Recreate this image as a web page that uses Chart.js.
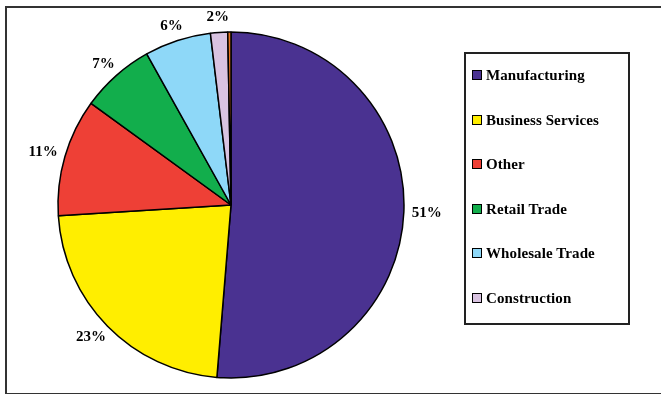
<!DOCTYPE html>
<html>
<head>
<meta charset="utf-8">
<script src="https://cdn.jsdelivr.net/npm/chart.js@4"></script>
<style>
  body { margin: 0; background: #fff; font-family: "Liberation Serif", "Times New Roman", serif; }
  #wrap { position: relative; width: 661px; height: 394px; overflow: hidden; }
  #frame { position: absolute; left: 5px; top: 6px; width: 700px; height: 385px; border: 2px solid #333; border-right: none; }
  #chart { position: absolute; left: 0; top: 0; }
  #legend { position: absolute; left: 464px; top: 52px; width: 162px; height: 269px; border: 2px solid #222; }
  .item { position: absolute; left: 6px; font-weight: bold; font-size: 15px; line-height: 16px; color: #000; white-space: nowrap; letter-spacing: 0.1px; }
  .sw { display: inline-block; width: 8px; height: 8px; border: 1px solid #000; margin-right: 4px; vertical-align: 0px; }
</style>
</head>
<body>
<div id="wrap">
  <div id="frame"></div>
  <canvas id="chart" width="661" height="394"></canvas>
  <div id="legend"></div>
</div>
<script>
// sectors, clockwise from 12 o'clock
const categories = ['Manufacturing', 'Business Services', 'Other', 'Retail Trade', 'Wholesale Trade', 'Construction', ''];
const shares = [51.3, 22.7, 11.0, 6.9, 6.2, 1.6, 0.3];
const colors = ['#4A3291', '#FFEE00', '#EE4036', '#12AE4C', '#8ED8F8', '#D9C3E1', '#E8741E'];

// legend (html, only named sectors)
const legend = document.getElementById('legend');
categories.forEach((c, i) => {
  if (!c) return;
  const d = document.createElement('div');
  d.className = 'item';
  d.style.top = (13 + i * 44.6) + 'px';
  d.innerHTML = `<span class="sw" style="background:${colors[i]}"></span>${c}`;
  legend.appendChild(d);
});

const pctLabels = {
  id: 'pctLabels',
  afterDatasetsDraw(chart) {
    const ctx = chart.ctx;
    const meta = chart.getDatasetMeta(0);
    ctx.save();
    ctx.font = 'bold 15px "Liberation Serif", serif';
    ctx.fillStyle = '#000';
    ctx.textAlign = 'center';
    ctx.textBaseline = 'middle';
    meta.data.forEach((arc, i) => {
      if (!categories[i]) return;
      const mid = (arc.startAngle + arc.endAngle) / 2;
      const dx = Math.cos(mid), dy = Math.sin(mid);
      const txt = Math.round(shares[i]) + '%';
      const w = ctx.measureText(txt).width, h = 15;
      const r = arc.outerRadius + 8;
      const x = arc.x + dx * r + dx * w / 2;
      const y = arc.y + dy * r + dy * h / 2;
      ctx.fillText(txt, x, y);
    });
    ctx.restore();
  }
};

new Chart(document.getElementById('chart').getContext('2d'), {
  type: 'pie',
  data: {
    labels: categories,
    datasets: [{
      data: shares,
      backgroundColor: colors,
      borderColor: '#000',
      borderWidth: 1.5,
      radius: 173
    }]
  },
  options: {
    responsive: false,
    animation: false,
    layout: { padding: { left: 10, right: 209, top: 26, bottom: 10 } },
    plugins: { legend: { display: false }, tooltip: { enabled: false } }
  },
  plugins: [pctLabels]
});
</script>
</body>
</html>
